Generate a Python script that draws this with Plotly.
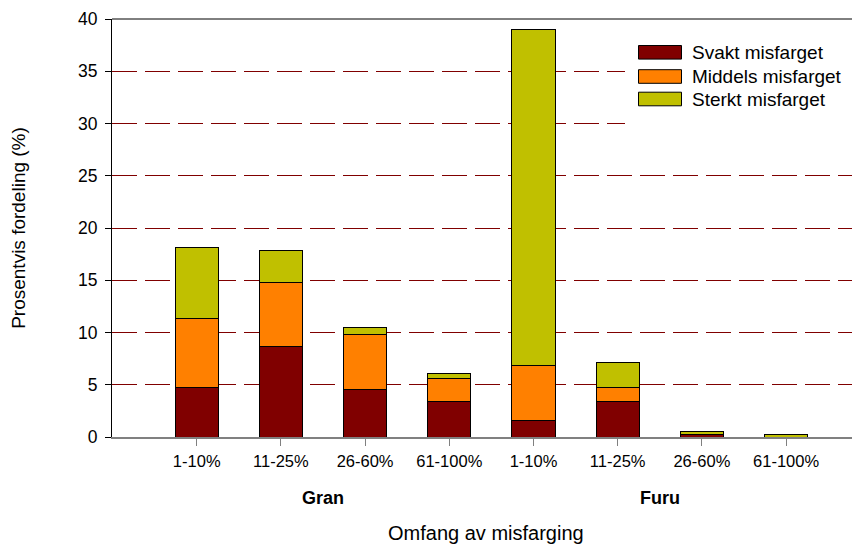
import plotly.graph_objects as go

categories = ["1-10%", "11-25%", "26-60%", "61-100%", "1-10%", "11-25%", "26-60%", "61-100%"]
groups = ["Gran", "Furu"]
svakt = [4.7, 8.7, 4.5, 3.4, 1.6, 3.35, 0.2, 0.0]
middels = [6.6, 6.1, 5.35, 2.2, 5.2, 1.4, 0.0, 0.0]
sterkt = [6.85, 3.0, 0.65, 0.5, 32.2, 2.35, 0.35, 0.25]
series_names = ["Svakt misfarget", "Middels misfarget", "Sterkt misfarget"]
colors = ["#800000", "#FF8000", "#C0C000"]
yticks = [0, 5, 10, 15, 20, 25, 30, 35, 40]

FONT = "Liberation Sans, Arial, sans-serif"
x = list(range(len(categories)))

fig = go.Figure()
for name, vals, col in zip(series_names, [svakt, middels, sterkt], colors):
    fig.add_trace(go.Bar(
        x=x, y=vals, name=name, width=0.514,
        marker=dict(color=col, line=dict(color="black", width=1)),
        showlegend=False,
    ))

# page offset due to default body margin
OFF = 8
W, H = 860 - OFF, 546 - OFF
PL, PT, PB = 112, 19, 437  # plot area edges in page pixels
L, R, T, B = PL - OFF, 0, PT - OFF, H - (PB - OFF)
pw, ph = W - L - R, H - T - B


def px(v):
    return (v - OFF - L) / pw


def py(v):
    return (H - B - (v - OFF)) / ph


shapes = [
    dict(type="line", xref="paper", yref="paper", x0=0, x1=1, y0=1.0, y1=1.0,
         line=dict(color="black", width=1), layer="above"),
    dict(type="rect", xref="paper", yref="paper", x0=px(625), x1=1.0, y0=py(135), y1=py(38),
         fillcolor="white", line=dict(width=0), layer="above"),
]
annotations = []
row_y = [52.3, 76.5, 99.0]
for name, col, ry in zip(series_names, colors, row_y):
    shapes.append(dict(type="rect", xref="paper", yref="paper",
                       x0=px(638.5), x1=px(681.5), y0=py(ry + 6.8), y1=py(ry - 6.8),
                       fillcolor=col, line=dict(color="black", width=1), layer="above"))
    annotations.append(dict(xref="paper", yref="paper", x=px(690), y=py(ry),
                            text=name, showarrow=False, xanchor="left", yanchor="middle",
                            font=dict(family=FONT, size=19, color="black")))

for g, xc in zip(groups, [1.5, 5.5]):
    annotations.append(dict(xref="x", yref="paper", x=xc, y=py(498), text="<b>%s</b>" % g,
                            showarrow=False, xanchor="center", yanchor="middle",
                            font=dict(family=FONT, size=18, color="black")))

annotations.append(dict(xref="paper", yref="paper", x=px(486), y=py(533),
                        text="Omfang av misfarging", showarrow=False,
                        xanchor="center", yanchor="middle",
                        font=dict(family=FONT, size=20, color="black")))

fig.update_layout(
    width=W, height=H,
    margin=dict(l=L, r=R, t=T, b=B, pad=0),
    paper_bgcolor="white", plot_bgcolor="white",
    barmode="stack",
    font=dict(family=FONT, size=16, color="black"),
    shapes=shapes, annotations=annotations,
    xaxis=dict(
        range=[-1.006, 7.878], tickmode="array", tickvals=x, ticktext=categories,
        showgrid=False, zeroline=False,
        showline=True, linecolor="#808080", linewidth=2,
        ticks="outside", ticklen=7, tickcolor="#808080", tickwidth=1,
        ticklabelstandoff=1,
        tickfont=dict(family=FONT, size=16.5, color="black"),
    ),
    yaxis=dict(
        range=[0, 40], tickmode="array", tickvals=yticks,
        showgrid=True, gridcolor="#800000", gridwidth=1, griddash="25px,8px",
        zeroline=False,
        showline=True, linecolor="black", linewidth=1,
        ticks="outside", ticklen=6, tickcolor="black", tickwidth=1,
        ticklabelstandoff=4,
        tickfont=dict(family=FONT, size=17.5, color="black"),
        title=dict(text="Prosentvis fordeling (%)", standoff=48,
                   font=dict(family=FONT, size=19, color="black")),
    ),
)

fig.write_html("out.html")
